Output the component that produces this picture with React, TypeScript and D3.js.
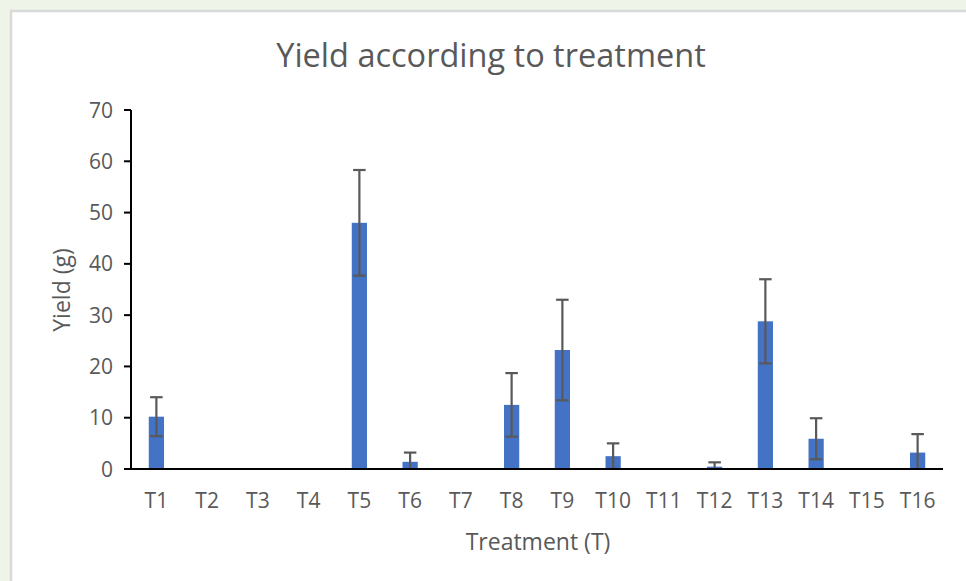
import React from "react";
import * as d3 from "d3";

const categories = ["T1","T2","T3","T4","T5","T6","T7","T8","T9","T10","T11","T12","T13","T14","T15","T16"];
const yieldMeans = [10.2, 0, 0, 0, 48.0, 1.4, 0, 12.5, 23.2, 2.5, 0, 0.45, 28.8, 5.9, 0, 3.2];
const yieldErrors = [3.8, 0, 0, 0, 10.3, 1.8, 0, 6.2, 9.8, 2.5, 0, 0.85, 8.2, 4.0, 0, 3.6];
const yTicks = [0, 10, 20, 30, 40, 50, 60, 70];

const W = 966;
const H = 581;
const plot = { left: 131, right: 943, top: 110, bottom: 469 };
const FONT = "'Open Sans', 'DejaVu Sans', sans-serif";
const TEXT = "#595959";

export default function App() {
  const x = d3.scaleBand<string>().domain(categories).range([plot.left, plot.right]).paddingInner(0.7).paddingOuter(0.35);
  const y = d3.scaleLinear().domain([0, 70]).range([plot.bottom, plot.top]);
  const capW = 12.5;

  return (
    <div style={{ position: "absolute", left: 0, top: 0, width: W, height: H }}>
      <svg width={W} height={H} style={{ display: "block" }}>
        <defs>
          <clipPath id="plotClip">
            <rect x={plot.left} y={0} width={plot.right - plot.left + 20} height={plot.bottom} />
          </clipPath>
        </defs>
        <rect x={0} y={0} width={W} height={H} fill="#eef4e8" />
        <rect x={11} y={11} width={W + 20} height={H + 20} fill="#ffffff" stroke="#d9d9d9" strokeWidth={2.5} />

        <text x={491} y={67} textAnchor="middle" fontFamily={FONT} fontSize={32.5} fill={TEXT}>
          Yield according to treatment
        </text>

        {/* bars */}
        {categories.map((c, i) => (
          yieldMeans[i] > 0 ? (
            <rect key={c} x={x(c)} y={y(yieldMeans[i])} width={x.bandwidth()} height={y(0) - y(yieldMeans[i])} fill="#4472c4" />
          ) : null
        ))}

        {/* error bars */}
        <g clipPath="url(#plotClip)" stroke="#595959" strokeWidth={2.2} fill="none">
          {categories.map((c, i) => {
            if (yieldErrors[i] <= 0) return null;
            const cx = (x(c) as number) + x.bandwidth() / 2;
            const hi = y(yieldMeans[i] + yieldErrors[i]);
            const lo = y(yieldMeans[i] - yieldErrors[i]);
            return (
              <g key={c}>
                <line x1={cx} x2={cx} y1={hi} y2={lo} />
                <line x1={cx - capW / 2} x2={cx + capW / 2} y1={hi} y2={hi} />
                <line x1={cx - capW / 2} x2={cx + capW / 2} y1={lo} y2={lo} />
              </g>
            );
          })}
        </g>

        {/* y axis */}
        <line x1={plot.left} x2={plot.left} y1={plot.top} y2={plot.bottom} stroke="#000" strokeWidth={2} />
        {yTicks.map((t) => (
          <g key={t}>
            <line x1={plot.left - 7} x2={plot.left} y1={y(t)} y2={y(t)} stroke="#000" strokeWidth={2} />
            <text x={plot.left - 18} y={y(t)} dy="0.36em" textAnchor="end" fontFamily={FONT} fontSize={21} fill={TEXT}>
              {t}
            </text>
          </g>
        ))}

        {/* x axis */}
        <line x1={plot.left - 7} x2={plot.right} y1={plot.bottom} y2={plot.bottom} stroke="#000" strokeWidth={2} />
        {categories.map((c) => (
          <text key={c} x={(x(c) as number) + x.bandwidth() / 2} y={508} textAnchor="middle" fontFamily={FONT} fontSize={21} fill={TEXT}>
            {c}
          </text>
        ))}

        <text x={538} y={550} textAnchor="middle" fontFamily={FONT} fontSize={23} fill={TEXT}>
          Treatment (T)
        </text>
        <text transform={`translate(70,290) rotate(-90)`} textAnchor="middle" fontFamily={FONT} fontSize={23} fill={TEXT}>
          Yield (g)
        </text>
      </svg>
    </div>
  );
}
